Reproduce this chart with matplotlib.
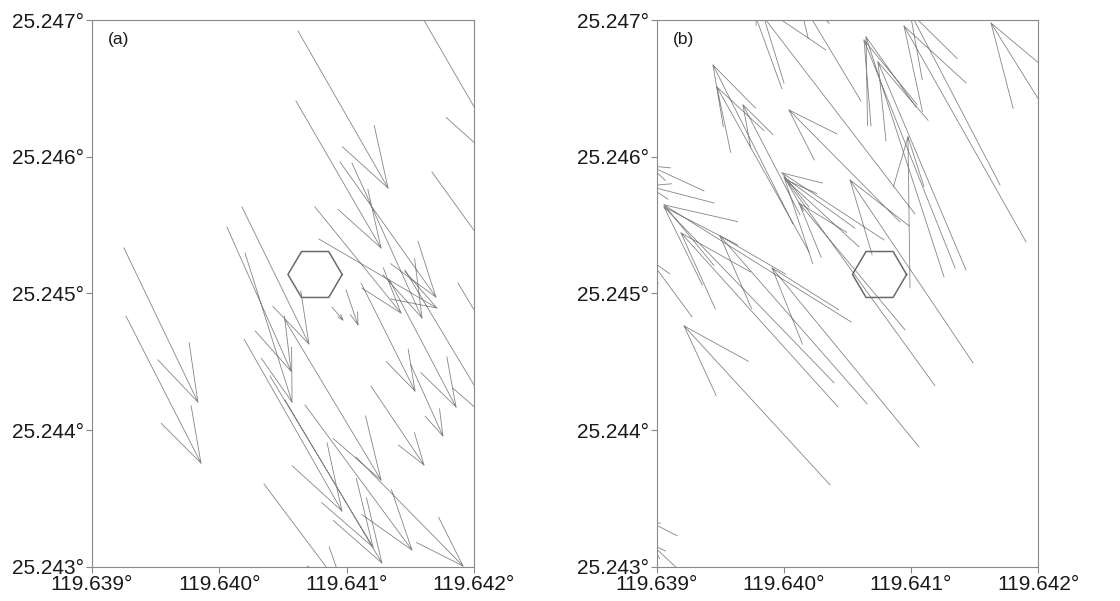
import matplotlib
matplotlib.use('Agg')
import matplotlib.pyplot as plt
import numpy as np

plt.rcParams['font.family'] = ['Liberation Sans', 'DejaVu Sans']

# panel (a): arrow tails (lon0, lat0) and tips (lon1, lat1), degrees
a_lon0 = [119.640618, 119.640602, 119.640948, 119.641238, 119.641670, 119.641874, 119.640178,
          119.640060, 119.640202, 119.640516, 119.640751, 119.640783, 119.641042, 119.640885,
          119.640995, 119.641113, 119.641332, 119.641458, 119.641505, 119.641191, 119.640194,
          119.640398, 119.640516, 119.640673, 119.641073, 119.640351, 119.639251, 119.639267]
a_lat0 = [25.246920, 25.246408, 25.245962, 25.247592, 25.245888, 25.245077, 25.245633,
          25.245486, 25.245296, 25.244806, 25.245633, 25.245398, 25.245954, 25.244901,
          25.245026, 25.245077, 25.245106, 25.245172, 25.244477, 25.244323, 25.244667,
          25.244397, 25.244221, 25.244185, 25.243804, 25.243607, 25.245333, 25.244835]
a_lon1 = [119.641325, 119.641270, 119.641701, 119.642338, 119.642361, 119.642518, 119.640704,
          119.640563, 119.640571, 119.641270, 119.641427, 119.641709, 119.641592, 119.640971,
          119.641089, 119.641537, 119.641859, 119.642212, 119.641756, 119.641607, 119.640963,
          119.641207, 119.641277, 119.641513, 119.641914, 119.640987, 119.639832, 119.639856]
a_lat1 = [25.245771, 25.245333, 25.244974, 25.245823, 25.244996, 25.244075, 25.244631,
          25.244433, 25.244206, 25.243636, 25.244857, 25.244894, 25.244821, 25.244806,
          25.244770, 25.244287, 25.244170, 25.244002, 25.243958, 25.243746, 25.243409,
          25.243146, 25.243029, 25.243124, 25.243007, 25.242817, 25.244206, 25.243760]

# panel (b)
b_lon0 = [119.640071, 119.640197, 119.640126, 119.640913, 119.640000, 119.641031, 119.640606,
          119.641260, 119.641347, 119.641433, 119.641906, 119.641701, 119.642669, 119.640992,
          119.641488, 119.640787, 119.641189, 119.640591, 119.640953, 119.640394, 119.639370,
          119.639449, 119.640425, 119.640654, 119.641063, 119.640362, 119.639276, 119.639158,
          119.639213, 119.640528]
b_lat0 = [25.245509, 25.245304, 25.245575, 25.245523, 25.246539, 25.245582, 25.246408,
          25.245121, 25.245187, 25.245172, 25.245377, 25.245794, 25.245428, 25.245041,
          25.244493, 25.245392, 25.244325, 25.245341, 25.244734, 25.244347, 25.245750,
          25.245662, 25.244171, 25.244193, 25.243879, 25.243601, 25.244829, 25.243228,
          25.242943, 25.244792]
b_lon1 = [119.639441, 119.639472, 119.639677, 119.640039, 119.639780, 119.639724, 119.640110,
          119.640646, 119.640630, 119.640740, 119.640945, 119.640992, 119.641630, 119.640976,
          119.640520, 119.639984, 119.640000, 119.640016, 119.640118, 119.639055, 119.638945,
          119.638929, 119.639189, 119.639496, 119.639906, 119.639213, 119.638945, 119.638945,
          119.638961, 119.639055]
b_lat1 = [25.246671, 25.246510, 25.246379, 25.246342, 25.247205, 25.247161, 25.247175,
          25.246876, 25.246854, 25.246693, 25.246956, 25.247058, 25.246978, 25.246145,
          25.245830, 25.245882, 25.245852, 25.245830, 25.245662, 25.245633, 25.245933,
          25.245787, 25.245443, 25.245421, 25.245187, 25.244763, 25.245246, 25.243330,
          25.243162, 25.245648]

# hexagon outline (same site in both panels)
hex_lon = [119.640965, 119.640859, 119.640646, 119.640539, 119.640646, 119.640859, 119.640965]
hex_lat = [25.245139, 25.245307, 25.245307, 25.245139, 25.244971, 25.244971, 25.245139]

xticks = [119.639, 119.640, 119.641, 119.642]
yticks = [25.243, 25.244, 25.245, 25.246, 25.247]
labels = ['(a)', '(b)']


def arrow_lines(lon0, lat0, lon1, lat1, alpha=0.33, beta=0.33):
    # open arrowheads, same recipe as matlab quiver
    x = np.array(lon0)
    y = np.array(lat0)
    u = np.array(lon1) - x
    v = np.array(lat1) - y
    xs, ys = [], []
    for i in range(len(x)):
        tx, ty = x[i] + u[i], y[i] + v[i]
        xs += [x[i], tx, np.nan]
        ys += [y[i], ty, np.nan]
        xs += [tx - alpha * (u[i] + beta * v[i]), tx, tx - alpha * (u[i] - beta * v[i]), np.nan]
        ys += [ty - alpha * (v[i] - beta * u[i]), ty, ty - alpha * (v[i] + beta * u[i]), np.nan]
    return xs, ys


fig = plt.figure(figsize=(11.2, 6.01), dpi=100)
ax1 = fig.add_axes([0.0821, 0.0566, 0.3411, 0.9101])
ax2 = fig.add_axes([0.5866, 0.0566, 0.3402, 0.9101])

data = [(a_lon0, a_lat0, a_lon1, a_lat1), (b_lon0, b_lat0, b_lon1, b_lat1)]
for ax, d, lab in zip([ax1, ax2], data, labels):
    xs, ys = arrow_lines(*d)
    ax.plot(xs, ys, color='#858585', lw=0.6)
    ax.plot(hex_lon, hex_lat, color='#6a6a6a', lw=1.1)
    ax.set_xlim(119.639, 119.642)
    ax.set_ylim(25.243, 25.247)
    ax.set_xticks(xticks)
    ax.set_yticks(yticks)
    ax.set_xticklabels(['%.3f°' % t for t in xticks])
    ax.set_yticklabels(['%.3f°' % t for t in yticks])
    ax.tick_params(direction='out', length=4, width=0.8, color='#888888',
                   labelsize=15, labelcolor='#1a1a1a', pad=2)
    for s in ax.spines.values():
        s.set_color('#888888')
        s.set_linewidth(0.8)
    ax.text(0.042, 0.978, lab, transform=ax.transAxes, fontsize=12.5,
            ha='left', va='top', color='#1a1a1a')

fig.savefig('out.png', dpi=100)
